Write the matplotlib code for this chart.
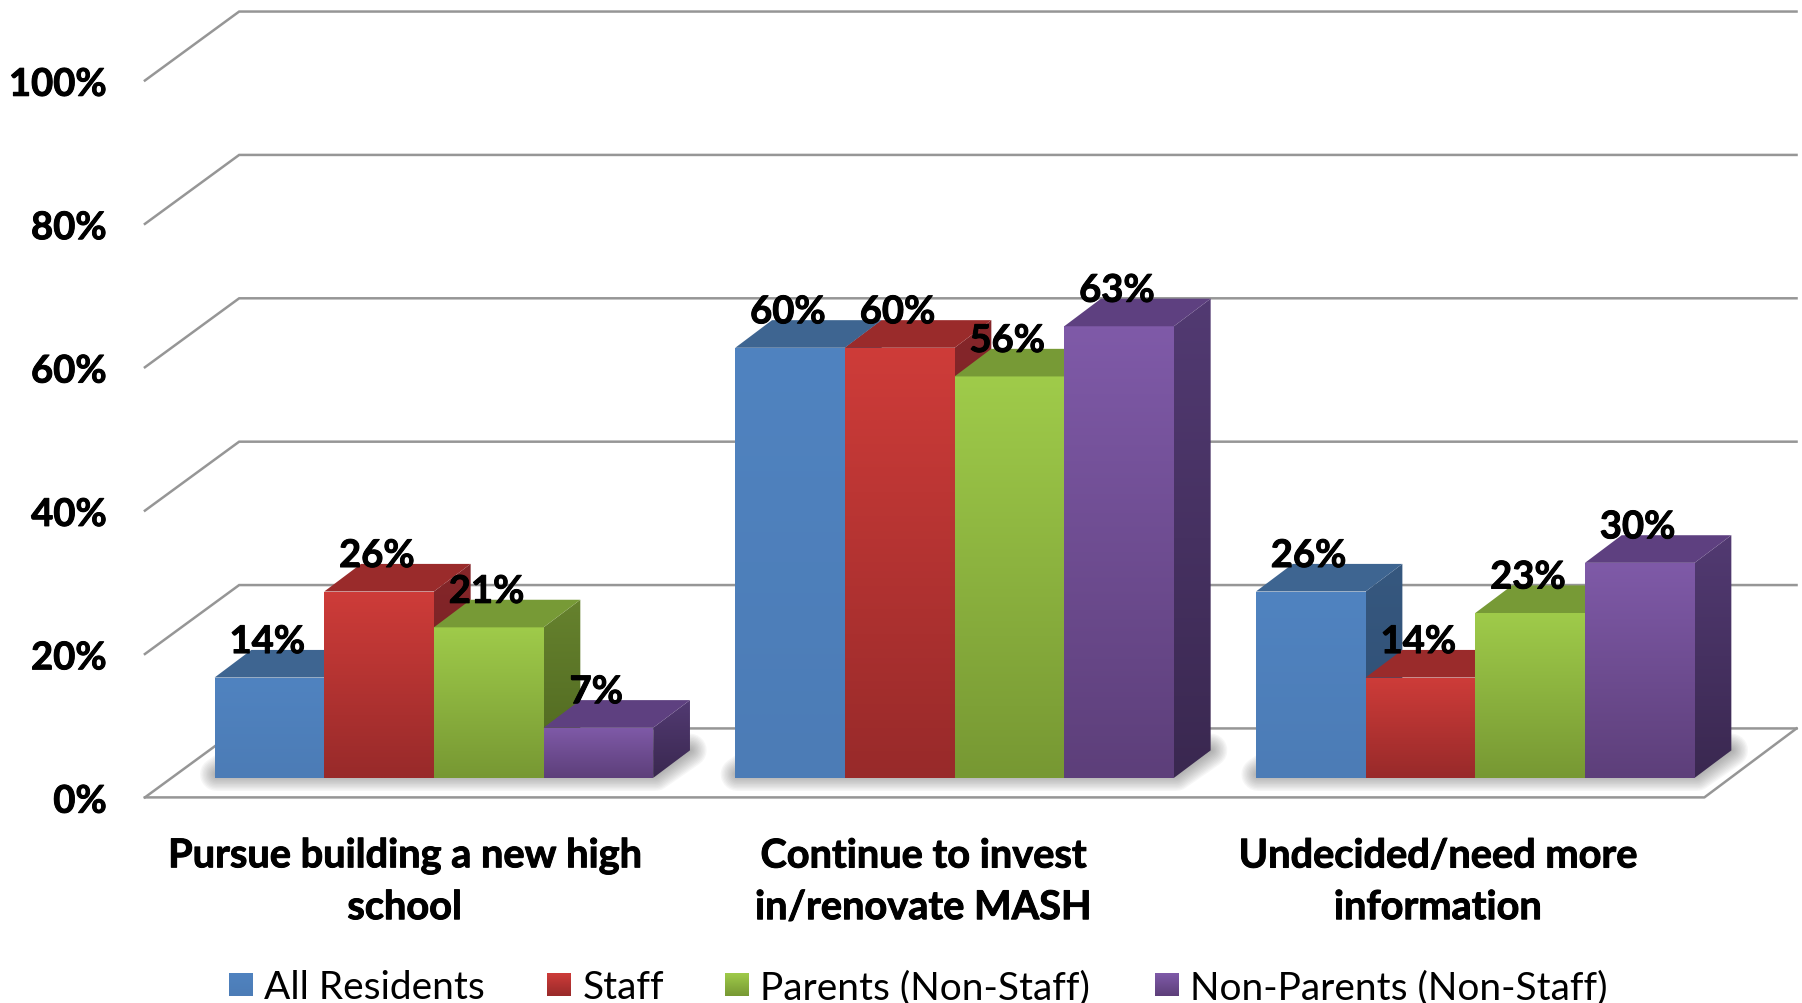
import numpy as np
import matplotlib
matplotlib.use('Agg')
import matplotlib.pyplot as plt
import matplotlib.patheffects as pe
from matplotlib.colors import LinearSegmentedColormap
from matplotlib.patches import Polygon

categories = ['Pursue building a new high\nschool', 'Continue to invest\nin/renovate MASH', 'Undecided/need more\ninformation']
series_names = ['All Residents', 'Staff', 'Parents (Non-Staff)', 'Non-Parents (Non-Staff)']
all_residents = [14, 60, 26]
staff = [26, 60, 14]
parents = [21, 56, 23]
non_parents = [7, 63, 30]
y_ticks = [0, 20, 40, 60, 80, 100]

# front colour top/bottom, side colour top/bottom, top face
front_colors = [('#5083C0', '#4C7CB6'), ('#CE3C39', '#982A2A'), ('#9FCB4A', '#779833'), ('#7F5AA8', '#5D3F7A')]
side_colors = [('#36587F', '#2F4E74'), ('#85262A', '#6F1F1E'), ('#66822E', '#4E661F'), ('#523A72', '#3A2850')]
top_colors = ['#3E6591', '#9A2B2B', '#779A36', '#5E4080']
grid_color = '#969696'

# axes cover the whole picture: x in group units, y in percent
bar_w = 0.2106
depth_x = 0.0706
depth_y = 3.85
wall_front = -2.72
wall_back = 6.9

W, H = 1802, 1004
fig = plt.figure(figsize=(W / 100, H / 100), dpi=100)
ax = fig.add_axes([0, 0, 1, 1])
ax.set_xlim(-0.8333, 2.6275)
ax.set_ylim(-31.4, 108.65)
ax.axis('off')
xlim, ylim = ax.get_xlim(), ax.get_ylim()

plt.rcParams['font.family'] = ['Lato', 'DejaVu Sans']
thick = [pe.withStroke(linewidth=0.7, foreground='black')]


def gradient_poly(points, top, bottom, z):
    points = np.array(points)
    cmap = LinearSegmentedColormap.from_list('g', [top, bottom])
    grad = np.linspace(0, 1, 128).reshape(-1, 1)
    extent = [points[:, 0].min(), points[:, 0].max(), points[:, 1].min(), points[:, 1].max()]
    im = ax.imshow(grad, cmap=cmap, extent=extent, aspect='auto', origin='upper', zorder=z, interpolation='bilinear')
    poly = Polygon(points, closed=True, transform=ax.transData, fc='none', ec='none')
    ax.add_patch(poly)
    im.set_clip_path(poly)


# walls and floor
left_f, left_b = -0.555, -0.374
right_f, right_b = 2.44, 2.617
for t in y_ticks:
    ax.plot([left_f, left_b, right_b], [t + wall_front, t + wall_back, t + wall_back], color=grid_color, lw=1.8, zorder=1, solid_joinstyle='miter')
    ax.text(-0.628, t + wall_front - 0.6, f'{t}%', ha='right', va='center', fontsize=27.5, fontweight='bold', color='black', path_effects=thick)
ax.plot([left_f, right_f, right_b], [wall_front, wall_front, wall_back], color=grid_color, lw=1.8, zorder=1)
ax.add_patch(Polygon([(left_f, wall_front), (left_b, wall_back), (right_b, wall_back), (right_f, wall_front)], fc='white', ec='none', zorder=0.5))

values = [all_residents, staff, parents, non_parents]
n = len(values)
z = 10
for g in range(len(categories)):
    # soft shadow round the group base
    x0 = g - n * bar_w / 2
    x1 = g + n * bar_w / 2
    base = [(x0 + 0.004, 0.5), (x0 + depth_x, depth_y), (x1 + depth_x, depth_y), (x1 + 0.004, 0.5)]
    for lw in np.linspace(24, 2, 12):
        ax.add_patch(Polygon(base, fc='#606060', ec='#606060', lw=lw, alpha=0.05, zorder=2, joinstyle='round'))

    for s in range(n):
        v = values[s][g]
        x0 = g + (s - n / 2) * bar_w
        x1 = x0 + bar_w
        # side, front, top
        gradient_poly([(x1, 0), (x1 + depth_x, depth_y), (x1 + depth_x, v + depth_y), (x1, v)], side_colors[s][0], side_colors[s][1], z)
        gradient_poly([(x0, 0), (x1, 0), (x1, v), (x0, v)], front_colors[s][0], front_colors[s][1], z + 1)
        ax.add_patch(Polygon([(x0, v), (x1, v), (x1 + depth_x, v + depth_y), (x0 + depth_x, v + depth_y)], fc=top_colors[s], ec='none', zorder=z + 2))
        z += 3

for g in range(len(categories)):
    for s in range(n):
        v = values[s][g]
        xc = g + (s - n / 2 + 0.5) * bar_w
        ax.text(xc - 0.004, v + 4.95, f'{v}%', ha='center', va='center', fontsize=27.5, fontweight='bold', color='black', zorder=100, path_effects=thick)

cat_x = [-0.056, 0.94, 1.928]
for g, label in enumerate(categories):
    lines = label.split('\n')
    ax.text(cat_x[g], -10.9, lines[0], ha='center', va='center', fontsize=28.6, fontweight='bold', color='black', path_effects=thick)
    ax.text(cat_x[g], -18.1, lines[1], ha='center', va='center', fontsize=28.6, fontweight='bold', color='black', path_effects=thick)

# legend
legend_x = [-0.394, 0.217, 0.559, 1.385]
for s, name in enumerate(series_names):
    xs = legend_x[s]
    gradient_poly([(xs, -27.2), (xs + 0.046, -27.2), (xs + 0.046, -30.4), (xs, -30.4)], front_colors[s][0], front_colors[s][1], 50)
    ax.text(xs + 0.068, -29.2, name, ha='left', va='center', fontsize=28, color='black')

ax.set_xlim(xlim)
ax.set_ylim(ylim)
fig.savefig('out.png', dpi=100, facecolor='white')
